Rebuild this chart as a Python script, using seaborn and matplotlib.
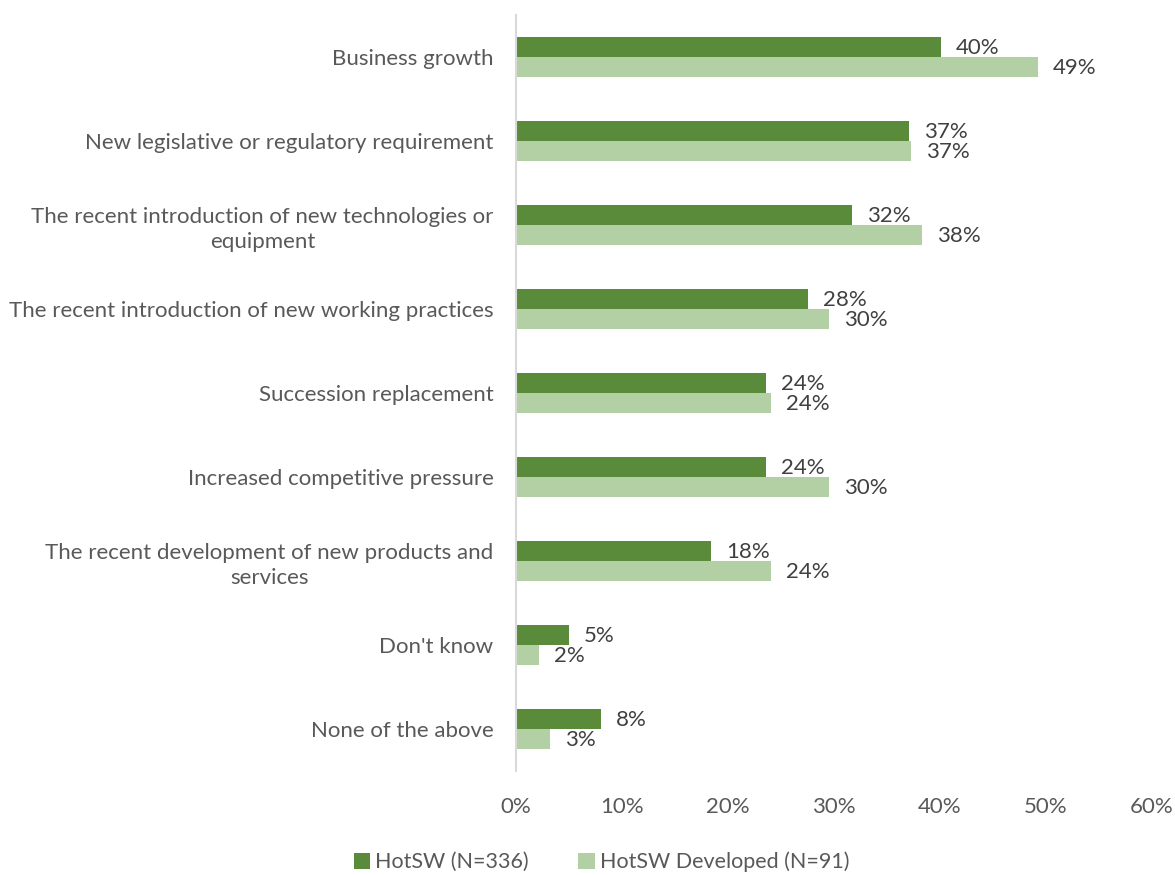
import matplotlib
matplotlib.use("Agg")
import matplotlib.pyplot as plt
import seaborn as sns
import pandas as pd

categories = [
    "Business growth",
    "New legislative or regulatory requirement",
    "The recent introduction of new technologies or\nequipment",
    "The recent introduction of new working practices",
    "Succession replacement",
    "Increased competitive pressure",
    "The recent development of new products and\nservices",
    "Don't know",
    "None of the above",
]
series_names = ["HotSW (N=336)", "HotSW Developed (N=91)"]
hotsw = [40.1, 37.1, 31.7, 27.6, 23.6, 23.6, 18.4, 5.0, 8.0]
hotsw_developed = [49.3, 37.3, 38.3, 29.6, 24.1, 29.6, 24.1, 2.2, 3.2]
x_ticks = [0, 10, 20, 30, 40, 50, 60]

colors = ["#598B3A", "#B3D0A5"]
text_grey = "#595959"
label_grey = "#404040"

sns.set_theme(style="white")
plt.rcParams["font.family"] = ["Lato", "DejaVu Sans"]

df = pd.DataFrame({
    "category": categories * 2,
    "series": [series_names[0]] * len(categories) + [series_names[1]] * len(categories),
    "value": hotsw + hotsw_developed,
})

fig = plt.figure(figsize=(11.75, 8.75), dpi=100)
ax = fig.add_axes([0.439, 0.119, 0.541, 0.864])

sns.barplot(
    data=df, y="category", x="value", hue="series",
    order=categories, hue_order=series_names,
    palette=colors, orient="h", width=0.48,
    saturation=1, errorbar=None, ax=ax, legend=True,
    linewidth=0,
)

# value labels just past each bar end
for container in ax.containers:
    for bar in container:
        w = bar.get_width()
        ax.annotate(
            f"{w:.0f}%",
            xy=(w, bar.get_y() + bar.get_height() / 2),
            xytext=(15, -1), textcoords="offset pixels",
            ha="left", va="center", fontsize=16, color=label_grey,
        )

ax.set_xlim(0, 60)
ax.set_ylim(len(categories) - 0.5, -0.5)
ax.set_xticks(x_ticks)
ax.set_xticklabels([f"{t}%" for t in x_ticks])
ax.set_xlabel("")
ax.set_ylabel("")
ax.tick_params(axis="x", length=0, pad=19, labelsize=16, labelcolor=text_grey)
ax.tick_params(axis="y", length=0, pad=16, labelsize=16, labelcolor=text_grey)
for lbl in ax.get_yticklabels():
    lbl.set_multialignment("center")
    lbl.set_linespacing(1.3)

for side in ["top", "right", "bottom"]:
    ax.spines[side].set_visible(False)
ax.spines["left"].set_color("#D9D9D9")
ax.spines["left"].set_linewidth(1.5)
ax.grid(False)

handles, labels = ax.get_legend_handles_labels()
ax.get_legend().remove()
fig.legend(
    handles, labels, loc="center", bbox_to_anchor=(0.512, 0.015),
    ncol=2, frameon=False, fontsize=15.5, handlelength=0.75, handleheight=0.75,
    handletextpad=0.25, columnspacing=2.3, labelcolor=text_grey,
)

fig.savefig("out.png", dpi=100)
